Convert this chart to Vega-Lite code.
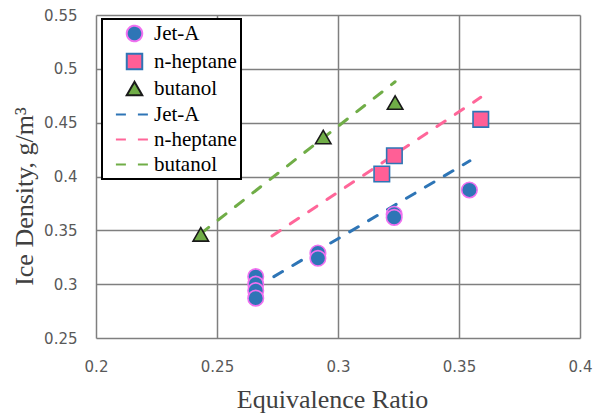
{
  "$schema": "https://vega.github.io/schema/vega-lite/v6.json",
  "width": 484,
  "height": 323,
  "autosize": "none",
  "padding": {"left": 96, "top": 15, "right": 15, "bottom": 76},
  "background": "white",
  "config": {
    "font": "Liberation Serif",
    "view": {"stroke": null},
    "axis": {
      "grid": true,
      "gridColor": "#7F7F7F",
      "gridWidth": 1.5,
      "gridOpacity": 1,
      "domain": false,
      "ticks": false,
      "tickSize": 0,
      "labelFont": "DejaVu Sans",
      "labelFontSize": 15,
      "labelColor": "#595959",
      "labelFlush": false,
      "labelOverlap": false,
      "titleFont": "Liberation Serif",
      "titleFontSize": 26,
      "titleFontWeight": "normal",
      "titleColor": "#404040"
    },
    "legend": {
      "orient": "none",
      "legendX": 6,
      "legendY": 4,
      "padding": 4,
      "rowPadding": 3,
      "labelFont": "Liberation Serif",
      "labelFontSize": 21,
      "labelColor": "black",
      "labelOffset": 9,
      "symbolOffset": 18,
      "symbolSize": 240,
      "symbolStrokeWidth": 2,
      "strokeColor": "black",
      "strokeWidth": 2,
      "fillColor": "white"
    }
  },
  "datasets": {
    "points": [
      {"phi": 0.266, "rho": 0.307, "series": "Jet-A"},
      {"phi": 0.266, "rho": 0.300, "series": "Jet-A"},
      {"phi": 0.266, "rho": 0.294, "series": "Jet-A"},
      {"phi": 0.266, "rho": 0.287, "series": "Jet-A"},
      {"phi": 0.2917, "rho": 0.329, "series": "Jet-A"},
      {"phi": 0.2917, "rho": 0.324, "series": "Jet-A"},
      {"phi": 0.3232, "rho": 0.365, "series": "Jet-A"},
      {"phi": 0.3232, "rho": 0.362, "series": "Jet-A"},
      {"phi": 0.3543, "rho": 0.3875, "series": "Jet-A"},
      {"phi": 0.3181, "rho": 0.4023, "series": "n-heptane"},
      {"phi": 0.3233, "rho": 0.4193, "series": "n-heptane"},
      {"phi": 0.359, "rho": 0.4531, "series": "n-heptane"},
      {"phi": 0.2433, "rho": 0.3462, "series": "butanol"},
      {"phi": 0.2939, "rho": 0.4367, "series": "butanol"},
      {"phi": 0.3236, "rho": 0.4687, "series": "butanol"}
    ],
    "fits": [
      {"phi": 0.2735, "rho": 0.307, "series": "Jet-A (fit)"},
      {"phi": 0.3545, "rho": 0.4146, "series": "Jet-A (fit)"},
      {"phi": 0.2727, "rho": 0.3447, "series": "n-heptane (fit)"},
      {"phi": 0.359, "rho": 0.4735, "series": "n-heptane (fit)"},
      {"phi": 0.2433, "rho": 0.347, "series": "butanol (fit)"},
      {"phi": 0.3236, "rho": 0.488, "series": "butanol (fit)"}
    ]
  },
  "encoding": {
    "x": {
      "field": "phi",
      "type": "quantitative",
      "scale": {"domain": [0.2, 0.4], "nice": false, "zero": false},
      "axis": {
        "values": [0.2, 0.25, 0.3, 0.35, 0.4],
        "format": "~g",
        "labelPadding": 21,
        "title": "Equivalence Ratio",
        "titleX": 236,
        "titleY": 69,
        "titleBaseline": "alphabetic"
      }
    },
    "y": {
      "field": "rho",
      "type": "quantitative",
      "scale": {"domain": [0.25, 0.55], "nice": false, "zero": false},
      "axis": {
        "values": [0.25, 0.3, 0.35, 0.4, 0.45, 0.5, 0.55],
        "format": "~g",
        "labelPadding": 19,
        "title": "Ice Density, g/m³",
        "titleX": -64,
        "titleY": 181,
        "titleAngle": -90,
        "titleBaseline": "alphabetic"
      }
    }
  },
  "layer": [
    {
      "data": {"name": "fits"},
      "mark": {"type": "line", "strokeCap": "round", "strokeWidth": 3},
      "encoding": {
        "stroke": {
          "field": "series",
          "type": "nominal",
          "scale": {
            "domain": ["Jet-A", "n-heptane", "butanol", "Jet-A (fit)", "n-heptane (fit)", "butanol (fit)"],
            "range": ["#F070F0", "#2E75B6", "#1a1a1a", "#2E75B6", "#FF6699", "#70AD47"]
          },
          "legend": {"title": null, "labelFont": "Liberation Serif", "labelExpr": "replace(datum.label, ' (fit)', '')"}
        },
        "strokeDash": {
          "field": "series",
          "type": "nominal",
          "scale": {
            "domain": ["Jet-A", "n-heptane", "butanol", "Jet-A (fit)", "n-heptane (fit)", "butanol (fit)"],
            "range": [[1, 0], [1, 0], [1, 0], [10, 12], [10, 12], [10, 12]]
          },
          "legend": {"title": null, "labelFont": "Liberation Serif", "labelExpr": "replace(datum.label, ' (fit)', '')"}
        }
      }
    },
    {
      "data": {"name": "points"},
      "mark": {"type": "point", "filled": true, "opacity": 1, "size": 240, "strokeWidth": 1.6},
      "encoding": {
        "fill": {
          "field": "series",
          "type": "nominal",
          "scale": {
            "domain": ["Jet-A", "n-heptane", "butanol", "Jet-A (fit)", "n-heptane (fit)", "butanol (fit)"],
            "range": ["#2E75B6", "#FF5F96", "#70AD47", "transparent", "transparent", "transparent"]
          },
          "legend": {"title": null, "labelFont": "Liberation Serif", "labelExpr": "replace(datum.label, ' (fit)', '')"}
        },
        "stroke": {
          "field": "series",
          "type": "nominal",
          "legend": {"title": null, "labelFont": "Liberation Serif", "labelExpr": "replace(datum.label, ' (fit)', '')"}
        },
        "shape": {
          "field": "series",
          "type": "nominal",
          "scale": {
            "domain": ["Jet-A", "n-heptane", "butanol", "Jet-A (fit)", "n-heptane (fit)", "butanol (fit)"],
            "range": ["circle", "square", "triangle-up", "M-2.4,0H2.4", "M-2.4,0H2.4", "M-2.4,0H2.4"]
          },
          "legend": {"title": null, "labelFont": "Liberation Serif", "labelExpr": "replace(datum.label, ' (fit)', '')"}
        }
      }
    }
  ]
}
